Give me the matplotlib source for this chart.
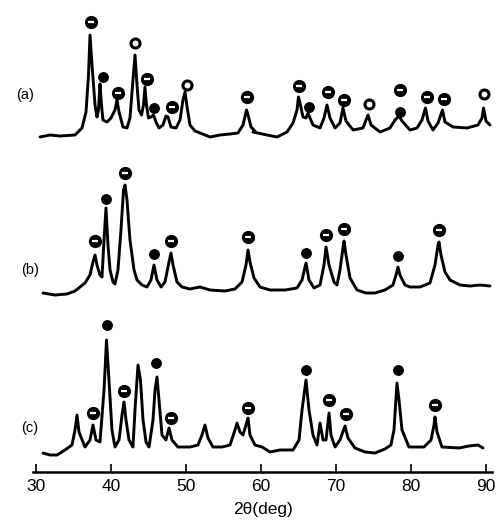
import matplotlib
matplotlib.use("Agg")
import matplotlib.pyplot as plt

plt.rcParams['font.family'] = ['Liberation Sans', 'DejaVu Sans']

# ---- trace (a): 2theta (deg) and intensity above its own baseline (a.u.)
a_tt = [30.53, 31.87, 33.2, 35.2, 36.13, 36.67, 37.0, 37.2, 37.47, 37.87, 38.13, 38.33, 38.53, 38.73,
        38.93, 39.47, 40.0, 40.53, 40.8, 41.07, 41.6, 42.13, 42.53, 42.93, 43.2, 43.47, 43.73, 44.07,
        44.33, 44.53, 44.73, 45.0, 45.33, 45.67, 46.0, 46.4, 46.93, 47.33, 47.6, 48.0, 48.67, 49.2,
        49.6, 49.87, 50.2, 50.53, 51.2, 51.87, 53.2, 54.53, 55.87, 56.93, 57.6, 58.07, 58.27, 58.67,
        59.2, 58.93, 60.8, 62.13, 63.47, 64.27, 64.8, 65.0, 65.2, 65.6, 66.0, 66.27, 66.53, 66.93,
        67.87, 68.4, 68.8, 69.2, 69.87, 70.53, 70.93, 71.33, 72.27, 73.6, 74.0, 74.27, 74.67, 75.87,
        77.2, 77.87, 78.4, 78.8, 79.87, 80.8, 81.47, 81.93, 82.27, 82.93, 83.6, 84.2, 84.53, 85.6,
        87.47, 88.93, 89.47, 89.67, 90.0, 90.53]
a_int = [0, 2, 1, 2, 9, 25, 62, 102, 72, 32, 20, 27, 53, 32,
         17, 15, 19, 27, 37, 25, 10, 9, 19, 57, 82, 52, 27, 22,
         32, 50, 32, 19, 20, 22, 15, 9, 12, 21, 20, 10, 9, 17,
         37, 45, 27, 12, 6, 4, 0, 2, 3, 4, 12, 27, 22, 10,
         6, 5, 2, 0, 5, 14, 27, 40, 34, 20, 19, 24, 19, 12,
         9, 19, 32, 19, 9, 14, 29, 16, 7, 9, 17, 22, 12, 5,
         9, 17, 21, 16, 7, 9, 17, 29, 16, 7, 14, 27, 15, 10,
         9, 12, 19, 29, 16, 12]

# ---- trace (b)
b_tt = [30.93, 32.53, 34.13, 35.2, 35.87, 36.53, 37.2, 37.6, 37.87, 38.13, 38.53, 38.8, 39.07, 39.33,
        39.6, 39.87, 40.27, 40.53, 40.93, 41.33, 41.67, 41.87, 42.13, 42.53, 43.07, 43.47, 44.13, 44.8,
        45.33, 45.73, 46.13, 46.67, 47.2, 47.73, 48.0, 48.27, 48.8, 49.47, 50.53, 51.87, 53.2, 55.2,
        56.53, 57.47, 58.0, 58.27, 58.53, 59.07, 59.87, 61.2, 63.2, 64.8, 65.47, 66.0, 66.4, 67.07,
        67.87, 68.4, 68.67, 69.07, 69.73, 70.13, 70.53, 70.93, 71.07, 71.33, 71.87, 72.8, 74.0, 75.2,
        76.53, 77.6, 78.0, 78.27, 78.53, 79.2, 79.87, 81.2, 82.53, 83.2, 83.6, 83.73, 84.0, 84.53,
        85.2, 86.53, 87.87, 89.2, 90.53]
b_int = [1, -1, 0, 3, 7, 11, 19, 32, 39, 29, 19, 17, 54, 86,
         49, 24, 12, 10, 24, 64, 104, 109, 94, 54, 24, 14, 9, 7,
         14, 29, 14, 7, 12, 32, 41, 29, 12, 7, 5, 7, 4, 3,
         5, 12, 29, 44, 32, 16, 7, 4, 4, 6, 14, 31, 14, 6,
         9, 29, 47, 29, 12, 9, 24, 46, 53, 39, 16, 4, 1, 1,
         4, 9, 19, 27, 19, 9, 7, 7, 11, 29, 49, 52, 39, 22,
         14, 9, 8, 9, 8]

# ---- trace (c)
c_tt = [30.93, 31.87, 32.8, 33.87, 34.8, 35.2, 35.47, 35.73, 36.53, 37.2, 37.6, 38.0, 38.53, 39.07,
        39.4, 39.73, 40.13, 40.53, 41.07, 41.47, 41.73, 42.0, 42.4, 42.93, 43.2, 43.6, 43.93, 44.27,
        44.67, 45.07, 45.6, 45.87, 46.13, 46.4, 46.8, 47.33, 47.73, 48.13, 48.93, 50.53, 51.6, 52.13,
        52.53, 52.93, 53.6, 54.8, 55.87, 56.53, 56.8, 57.2, 57.6, 58.0, 58.27, 58.53, 59.2, 60.13,
        61.2, 62.53, 64.27, 65.07, 65.47, 66.0, 66.4, 66.93, 67.47, 67.87, 68.27, 68.67, 69.07, 69.33,
        69.87, 70.53, 71.2, 71.6, 72.53, 73.87, 75.2, 76.53, 77.33, 77.73, 78.13, 78.4, 78.8, 79.73,
        81.73, 82.67, 83.07, 83.2, 83.47, 84.13, 86.4, 87.73, 88.93, 89.6]
c_int = [2, 0, 0, 5, 10, 25, 40, 23, 8, 15, 30, 15, 13, 65,
         115, 75, 25, 8, 15, 40, 53, 35, 15, 8, 45, 90, 75, 35,
         13, 8, 35, 65, 78, 55, 20, 15, 27, 15, 8, 8, 10, 20,
         30, 17, 8, 8, 10, 25, 32, 23, 20, 30, 37, 20, 10, 8,
         3, 5, 5, 15, 45, 75, 45, 20, 10, 32, 15, 15, 42, 20,
         8, 15, 29, 17, 7, 3, 2, 6, 10, 25, 72, 55, 25, 8,
         8, 15, 30, 38, 23, 8, 7, 9, 10, 7]

# vertical offsets of the stacked patterns
offsets = {'a': 335, 'b': 178, 'c': 17}
labels = {'a': '(a)', 'b': '(b)', 'c': '(c)'}

# phase markers: (2theta, height above baseline) per trace
# theta-bar circle, filled dot, open circle
a_bar = [(37.33, 115), (40.93, 44), (44.8, 58), (48.13, 30), (58.13, 40), (65.07, 51),
         (68.93, 45), (71.07, 37), (78.53, 47), (82.13, 40), (84.4, 38)]
a_dot = [(38.93, 60), (45.73, 29), (66.4, 30), (78.53, 25)]
a_open = [(43.2, 94), (50.13, 52), (74.4, 33), (89.73, 43)]

b_bar = [(37.87, 53), (41.87, 121), (48.0, 53), (58.27, 57), (68.67, 59), (71.07, 65), (83.73, 64)]
b_dot = [(39.33, 95), (45.73, 40), (66.0, 41), (78.27, 38)]
b_open = []

c_bar = [(37.6, 42), (41.73, 64), (48.0, 37), (58.27, 47), (69.07, 55), (71.33, 41), (83.2, 50)]
c_dot = [(39.47, 130), (46.0, 92), (66.0, 85), (78.27, 85)]
c_open = []

xticks = [30, 40, 50, 60, 70, 80, 90]
xlabel = '2θ(deg)'

W, H = 503, 526
fig = plt.figure(figsize=(W / 100, H / 100), dpi=100)
ax = fig.add_axes([33 / W, (H - 472) / H, (492 - 33) / W, 472 / H])
ax.set_xlim(29.6, 90.8)
ax.set_ylim(0, 472)

traces = {'a': (a_tt, a_int, a_bar, a_dot, a_open),
          'b': (b_tt, b_int, b_bar, b_dot, b_open),
          'c': (c_tt, c_int, c_bar, c_dot, c_open)}
label_pos = {'a': (28.53, 377), 'b': (29.2, 202), 'c': (29.2, 44)}

for key, (tt, inten, bars, dots, opens) in traces.items():
    off = offsets[key]
    ax.plot(tt, [v + off for v in inten], color='black', lw=2.1,
            solid_joinstyle='round', solid_capstyle='round')
    if bars:
        xs = [p[0] for p in bars]
        ys = [p[1] + off for p in bars]
        ax.plot(xs, ys, 'o', ms=8.5, mfc='black', mec='black', clip_on=False)
        ax.plot(xs, ys, '_', ms=4.5, mew=1.6, color='white', clip_on=False)
    if dots:
        ax.plot([p[0] for p in dots], [p[1] + off for p in dots], 'o', ms=6.8,
                mfc='black', mec='black', clip_on=False)
    if opens:
        ax.plot([p[0] for p in opens], [p[1] + off for p in opens], 'o', ms=6.5,
                mfc='white', mec='black', mew=2.2, clip_on=False)
    lx, ly = label_pos[key]
    ax.text(lx, ly, labels[key], ha='center', va='center', fontsize=10.5)

for s in ['left', 'right', 'top']:
    ax.spines[s].set_visible(False)
ax.spines['bottom'].set_linewidth(1.8)
ax.set_yticks([])
ax.set_xticks(xticks)
ax.set_xticklabels([str(t) for t in xticks])
ax.tick_params(axis='x', direction='in', length=5.5, width=1.2, labelsize=12.5, pad=5)
ax.set_xlabel(xlabel, fontsize=12.5, labelpad=6)

fig.savefig('out.png', dpi=100)
